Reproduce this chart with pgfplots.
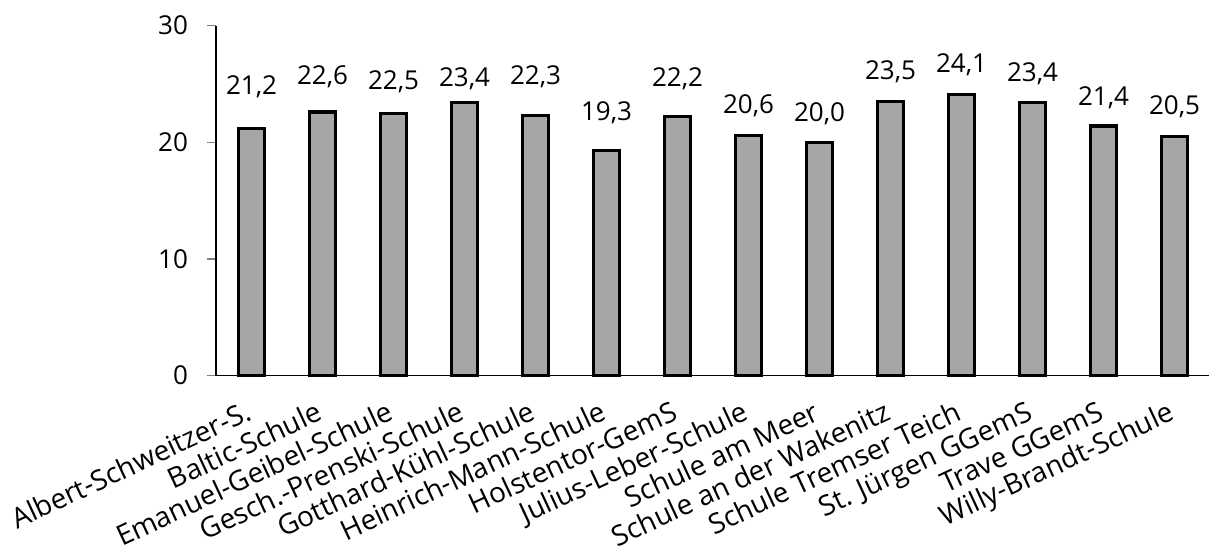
\documentclass[border=0pt]{standalone}
\usepackage{fontspec}
\setmainfont{Open Sans}
\usepackage{pgfplots}
\usepackage{pgfplotstable}
\pgfplotsset{compat=1.18}
\pgfkeys{/pgf/number format/assume math mode=true}
\definecolor{barfill}{HTML}{A6A6A6}

% off = baseline of the value label above the bar top, in bp
\pgfplotstableread{
x y off
0 21.2 16.8
1 22.6 13.8
2 22.5 11.8
3 23.4 8.3
4 22.3 15.3
5 19.3 14.8
6 22.2 15.3
7 20.6 10.8
8 20.0 10.3
9 23.5 10.8
10 24.1 10.8
11 23.4 10.8
12 21.4 10.3
13 20.5 10.8
}\data

\begin{document}
\begin{tikzpicture}[font=\fontsize{13bp}{15bp}\selectfont]
\begin{axis}[
    scale only axis,
    width=497bp, height=175bp,
    xmin=-0.5, xmax=13.5,
    ymin=0, ymax=30,
    axis lines*=left,
    axis line style={black, line width=0.6bp},
    ytick={0,10,20,30},
    major tick length=4.5bp,
    minor tick length=10bp,
    y tick style={gray, line width=0.6bp},
    ytick align=outside,
    xtick={0,...,13},
    xtick style={draw=none},
    minor xtick={-0.5,0.5,...,13.5},
    minor x tick style={gray, line width=0.6bp},
    xtick align=center,
    xticklabels={Albert-Schweitzer-S.,Baltic-Schule,Emanuel-Geibel-Schule,Gesch.-Prenski-Schule,Gotthard-Kühl-Schule,Heinrich-Mann-Schule,Holstentor-GemS,Julius-Leber-Schule,Schule am Meer,Schule an der Wakenitz,Schule Tremser Teich,St. Jürgen GGemS,Trave GGemS,Willy-Brandt-Schule},
    xticklabel style={font=\fontsize{14bp}{16bp}\selectfont, anchor=base east, inner sep=0pt, xshift=1bp, yshift=-19.5bp, rotate=25},
    yticklabel style={xshift=-6bp},
    clip=false,
]
\addplot[ybar, fill=barfill, draw=black, line width=1.6bp, bar width=13bp,
    visualization depends on={\thisrow{off} \as \off},
    nodes near coords={\pgfmathprintnumber[fixed,fixed zerofill,precision=1,use comma]{\pgfplotspointmeta}},
    every node near coord/.append style={anchor=base, yshift=\off bp, inner sep=0pt, black}]
    table[x=x, y=y] {\data};
\end{axis}
\pgfresetboundingbox
\path ([xshift=-108bp,yshift=-87.2bp]current axis.south west) rectangle ([xshift=-108bp,yshift=187.8bp]current axis.south west);
\path ([xshift=496.5bp]current axis.south west) rectangle ([xshift=496.5bp]current axis.south west);
\end{tikzpicture}
\end{document}
